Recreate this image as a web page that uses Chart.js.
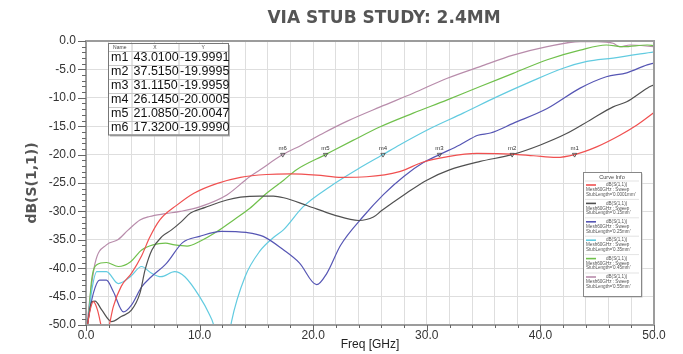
<!DOCTYPE html>
<html>
<head>
<meta charset="utf-8">
<script src="https://cdn.jsdelivr.net/npm/chart.js@4.4.0/dist/chart.umd.min.js"></script>
<style>
html, body { margin: 0; padding: 0; background: #fff; }
</style>
</head>
<body>
<canvas id="chart" width="683" height="354"></canvas>
<script>
// Curve data (freq in GHz, dB(S(1,1)))
const stubLengths = ["0.0001mm", "0.15mm", "0.25mm", "0.35mm", "0.45mm", "0.55mm"];

const freqRed = [0, 0.3, 0.65, 1.0, 1.35, 1.65, 2.0, 2.4, 3.1, 4.0, 4.9, 5.6, 6.5, 8.0, 9.5, 11.5, 13.6, 15.9, 18.0, 20.3, 22.5, 24.7, 27.6, 29.7, 31.75, 34.4, 37.5, 39.4, 41.4, 43.01, 45.0, 47.0, 48.5, 50.0];
const dbRed = [-52, -48, -45.9, -47.3, -50.3, -53, -50.5, -46.8, -43.2, -40.9, -37.8, -34.6, -31.5, -28.9, -26.8, -25.1, -24.0, -23.5, -23.4, -23.6, -24.0, -23.9, -23.0, -21.3, -20.4, -19.8, -19.9, -20.2, -20.5, -20.0, -18.6, -16.6, -14.8, -12.6];

const freqBlack = [0, 0.2, 0.5, 0.8, 1.4, 2.25, 3.1, 4.0, 4.75, 5.2, 5.8, 6.7, 7.5, 8.4, 9.2, 10.5, 12.4, 13.6, 15.3, 16.5, 17.4, 19.5, 21.8, 24.0, 25.3, 26.0, 28.2, 30.0, 32.0, 34.7, 37.515, 40.0, 42.3, 44.4, 46.4, 47.6, 49.4, 50];
const dbBlack = [-52, -49, -45.9, -45.8, -47.4, -49.4, -48.5, -47.4, -44.4, -40.3, -36.8, -34.4, -33.3, -31.8, -30.3, -29.3, -28.0, -27.5, -27.3, -27.3, -27.6, -29.0, -30.6, -31.6, -31.0, -29.9, -26.8, -24.5, -22.7, -21.2, -20.0, -18.3, -16.3, -13.9, -11.6, -10.7, -8.3, -7.7];

const freqBlue = [0, 0.2, 0.65, 1.2, 1.8, 2.4, 3.3, 4.0, 4.9, 5.7, 7.1, 8.5, 10.0, 11.9, 14.1, 15.6, 17.4, 18.8, 20.3, 21.2, 22.4, 24.4, 26.2, 28.0, 29.7, 31.115, 32.9, 34.5, 35.6, 37.6, 40.6, 43.5, 45.8, 47.6, 49.4, 50];
const dbBlue = [-52, -49, -44.4, -42.1, -42.1, -44.1, -47.7, -46.5, -43.3, -41.6, -39.1, -35.5, -34.4, -33.5, -33.7, -34.4, -36.8, -39.1, -42.9, -40.9, -36.0, -30.9, -27.0, -23.8, -21.4, -20.0, -18.3, -16.6, -16.2, -14.5, -11.9, -8.3, -6.3, -5.6, -4.2, -3.9];

const freqCyan = [0, 0.2, 0.5, 0.95, 1.8, 2.85, 3.9, 4.9, 5.7, 6.6, 7.8, 8.7, 10.0, 10.8, 11.3, 11.7, 12.3, 12.8, 14.0, 15.3, 16.5, 17.4, 19.1, 21.5, 23.8, 26.145, 27.6, 30.3, 33.2, 36.2, 39.1, 42.0, 44.1, 46.4, 50];
const dbCyan = [-52, -49, -44, -40.6, -40.6, -42.7, -41.5, -39.7, -40.8, -41.5, -40.6, -41.5, -45.0, -47.9, -50.5, -56, -56, -49.5, -41.5, -37.0, -34.6, -33.2, -29.2, -25.6, -22.7, -20.0, -18.3, -15.4, -12.7, -9.8, -7.2, -4.8, -3.6, -3.0, -1.9];

const freqGreen = [0, 0.2, 0.5, 0.95, 1.8, 2.85, 3.9, 4.9, 5.9, 7.0, 7.8, 8.9, 10.0, 11.5, 13.0, 14.4, 15.9, 17.4, 18.5, 21.085, 23.5, 25.9, 28.8, 31.75, 34.7, 37.6, 40.6, 43.5, 45.8, 47.3, 49.4, 50];
const dbGreen = [-52, -49, -42, -39.4, -39.0, -39.7, -38.9, -36.8, -35.9, -35.6, -35.9, -36.1, -35.3, -33.6, -31.5, -29.5, -26.8, -24.5, -22.7, -20.0, -17.5, -15.1, -12.7, -10.4, -8.0, -5.7, -3.3, -1.6, -0.7, -1.0, -0.7, -0.8];

const freqPink = [0, 0.3, 0.8, 1.8, 2.8, 3.7, 4.75, 5.6, 7.0, 8.3, 10.0, 12.4, 14.4, 15.3, 17.32, 19.0, 21.0, 23.0, 25.9, 28.8, 31.75, 34.7, 37.6, 40.6, 43.5, 45.0, 46.4, 47.0, 47.9, 50];
const dbPink = [-52, -46, -39.1, -35.9, -35.0, -33.3, -31.5, -30.9, -30.4, -30.0, -29.2, -27.1, -23.9, -22.7, -20.0, -18.3, -16.1, -14.1, -11.6, -9.2, -6.6, -4.5, -2.5, -1.0, -0.1, -0.1, -0.4, -1.0, -0.7, -1.0];

// markers m1..m6
const markerNames = ["m1", "m2", "m3", "m4", "m5", "m6"];
const markerX = [43.01, 37.515, 31.115, 26.145, 21.085, 17.32];
const markerY = [-19.9991, -19.9995, -19.9959, -20.0005, -20.0047, -19.9990];

const lineColors = ["#f05050", "#505050", "#5656b4", "#62cbe0", "#70c04c", "#b88cab"];

const curves = [
  [freqRed, dbRed], [freqBlack, dbBlack], [freqBlue, dbBlue],
  [freqCyan, dbCyan], [freqGreen, dbGreen], [freqPink, dbPink]
];

const toPoints = (xs, ys) => xs.map((x, i) => ({ x: x, y: ys[i] }));

const datasets = curves.map((c, i) => ({
  label: "dB(S(1,1)) StubLength='" + stubLengths[i] + "'",
  data: toPoints(c[0], c[1]),
  borderColor: lineColors[i],
  borderWidth: 1.2,
  pointRadius: 0,
  fill: false,
  cubicInterpolationMode: "monotone",
}));

datasets.push({
  label: "markers",
  data: toPoints(markerX, markerY),
  showLine: false,
  pointStyle: "triangle",
  rotation: 180,
  pointRadius: 2.5,
  borderColor: "#444",
  borderWidth: 0.8,
  backgroundColor: "rgba(255,255,255,0)",
  order: -1,
});

// extra drawing: title, frame, ticks, marker labels, marker table, curve info box
const overlay = {
  id: "overlay",
  afterDraw(chart) {
    const ctx = chart.ctx;
    const a = chart.chartArea;
    const xs = chart.scales.x;
    const ys = chart.scales.y;
    ctx.save();

    // title
    ctx.font = "bold 17px 'DejaVu Sans'";
    ctx.fillStyle = "#555";
    ctx.textAlign = "center";
    ctx.textBaseline = "middle";
    ctx.fillText("VIA STUB STUDY: 2.4MM", 384, 19);

    // frame
    ctx.strokeStyle = "#9c9c9c";
    ctx.lineWidth = 2;
    ctx.strokeRect(a.left, a.top, a.right - a.left, a.bottom - a.top);

    // axis ticks
    ctx.strokeStyle = "#666";
    ctx.lineWidth = 1;
    ctx.beginPath();
    for (let v = 0; v >= -50; v--) {
      const y = Math.round(ys.getPixelForValue(v)) + 0.5;
      const len = v % 5 === 0 ? 8 : 4;
      ctx.moveTo(a.left - len, y);
      ctx.lineTo(a.left, y);
    }
    for (let f = 0; f <= 50; f += 2) {
      const x = Math.round(xs.getPixelForValue(f)) + 0.5;
      const len = f % 10 === 0 ? 6 : 3;
      ctx.moveTo(x, a.bottom);
      ctx.lineTo(x, a.bottom + len);
    }
    ctx.stroke();

    // marker labels
    ctx.font = "6px 'Liberation Sans'";
    ctx.fillStyle = "#333";
    ctx.textAlign = "center";
    ctx.textBaseline = "alphabetic";
    markerNames.forEach((m, i) => {
      const px = xs.getPixelForValue(markerX[i]);
      const py = ys.getPixelForValue(markerY[i]);
      ctx.fillText(m, px, py - 5);
    });

    // marker table
    const tx = 108, ty = 43, tw = 120, headH = 7.5, rowH = 14;
    const th = headH + rowH * markerNames.length;
    const cols = [108, 131.5, 178.5, 228];
    ctx.fillStyle = "#b5b5b5";
    ctx.fillRect(tx + 2, ty + 2, tw, th);
    ctx.fillStyle = "#fff";
    ctx.fillRect(tx, ty, tw, th);
    ctx.strokeStyle = "#c8c8c8";
    ctx.beginPath();
    cols.slice(1, 3).forEach(cx => { ctx.moveTo(cx + 0.5, ty); ctx.lineTo(cx + 0.5, ty + th); });
    for (let r = 0; r < markerNames.length; r++) {
      const y = Math.round(ty + headH + r * rowH) + 0.5;
      ctx.moveTo(tx, y); ctx.lineTo(tx + tw, y);
    }
    ctx.stroke();
    ctx.strokeStyle = "#777";
    ctx.strokeRect(tx + 0.5, ty + 0.5, tw, th);
    ctx.fillStyle = "#444";
    ctx.font = "5px 'Liberation Sans'";
    ctx.textAlign = "center";
    ctx.textBaseline = "middle";
    ["Name", "X", "Y"].forEach((h, i) => ctx.fillText(h, (cols[i] + cols[i + 1]) / 2, ty + headH / 2 + 0.5));
    ctx.fillStyle = "#111";
    ctx.font = "12.5px 'Liberation Sans'";
    ctx.textAlign = "left";
    markerNames.forEach((m, i) => {
      const y = ty + headH + i * rowH + rowH / 2 + 0.5;
      ctx.fillText(m, cols[0] + 3, y);
      ctx.fillText(markerX[i].toFixed(4), cols[1] + 2, y);
      ctx.fillText(markerY[i].toFixed(4), cols[2] + 1.5, y);
    });

    // curve info box
    const bx = 583, by = 172, bw = 58, bh = 124, gap = 18.4, y0 = 181;
    ctx.fillStyle = "#c0c0c0";
    ctx.fillRect(bx + 1.5, by + 1.5, bw, bh);
    ctx.fillStyle = "#fff";
    ctx.fillRect(bx, by, bw, bh);
    ctx.strokeStyle = "#888";
    ctx.strokeRect(bx + 0.5, by + 0.5, bw, bh);
    ctx.fillStyle = "#444";
    ctx.font = "5.5px 'Liberation Sans'";
    ctx.textAlign = "center";
    ctx.fillText("Curve Info", bx + bw / 2, by + 5);
    stubLengths.forEach((s, i) => {
      const top = y0 + i * gap;
      ctx.strokeStyle = "#d0d0d0";
      ctx.lineWidth = 0.6;
      ctx.beginPath();
      ctx.moveTo(bx + 2, top); ctx.lineTo(bx + bw - 2, top);
      ctx.stroke();
      ctx.strokeStyle = lineColors[i];
      ctx.lineWidth = 1.6;
      ctx.beginPath();
      ctx.moveTo(bx + 3, top + 4); ctx.lineTo(bx + 13, top + 4);
      ctx.stroke();
      ctx.fillStyle = "#555";
      ctx.font = "4.6px 'Liberation Sans'";
      ctx.textAlign = "left";
      ctx.fillText("dB(S(1,1))", bx + 23, top + 4);
      ctx.fillText("Mesh60GHz : Sweep", bx + 3, top + 9);
      ctx.fillText("StubLength='" + s + "'", bx + 3, top + 13.5);
    });

    ctx.restore();
  }
};

new Chart(document.getElementById("chart").getContext("2d"), {
  type: "line",
  data: { datasets: datasets },
  plugins: [overlay],
  options: {
    responsive: false,
    animation: false,
    devicePixelRatio: 1,
    layout: { padding: { top: 41, right: 29, left: 0, bottom: 0 } },
    plugins: {
      legend: { display: false },
      tooltip: { enabled: false },
      title: { display: false },
    },
    scales: {
      x: {
        type: "linear",
        min: 0,
        max: 50,
        afterFit(scale) { scale.height = 29; },
        border: { display: false },
        grid: { color: "#dedede", drawTicks: false },
        ticks: {
          stepSize: 2,
          autoSkip: false,
          maxRotation: 0,
          padding: 3,
          color: "#333",
          font: { family: "'Liberation Sans'", size: 12 },
          callback: v => (v % 10 === 0 ? v.toFixed(1) : ""),
        },
        title: {
          display: true,
          text: "Freq [GHz]",
          color: "#222",
          font: { family: "'Liberation Sans'", size: 12 },
          padding: { top: 0, bottom: 2 },
        },
      },
      y: {
        type: "linear",
        min: -50,
        max: 0,
        afterFit(scale) { scale.width = 86; },
        border: { display: false },
        grid: { color: "#dedede", drawTicks: false },
        ticks: {
          stepSize: 5,
          padding: 10,
          color: "#333",
          font: { family: "'Liberation Sans'", size: 12 },
          callback: v => v.toFixed(1),
        },
        title: {
          display: true,
          text: "dB(S(1,1))",
          color: "#555",
          font: { family: "'DejaVu Sans'", size: 14, weight: "bold" },
          padding: { top: 24, bottom: 0 },
        },
      },
    },
  },
});
</script>
</body>
</html>
